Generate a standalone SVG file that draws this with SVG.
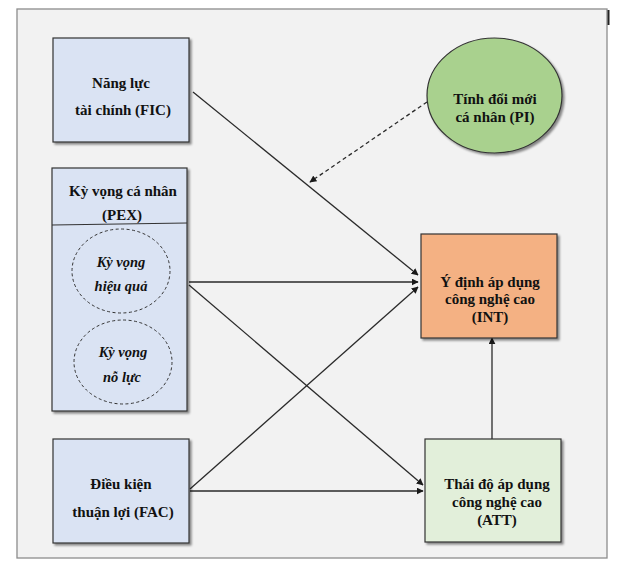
<svg xmlns="http://www.w3.org/2000/svg" width="630" height="575" viewBox="0 0 630 575">
<style>
.box{stroke:#333;stroke-width:1.2}
.t{font-family:"Liberation Serif","Times New Roman",serif;font-weight:bold;font-size:15px;fill:#111;text-anchor:middle}
.ti{font-style:italic;font-size:14.5px}
.c{stroke:#2a2a2a;stroke-width:1.3;fill:none}
.d{stroke-dasharray:4 3}
</style>
<defs>
<marker id="ah" viewBox="0 0 10 10" refX="9" refY="5" markerWidth="7" markerHeight="7" orient="auto" markerUnits="userSpaceOnUse">
<path d="M0,0 L10,5 L0,10 z" fill="#1a1a1a"/>
</marker>
<filter id="sh" x="-10%" y="-10%" width="125%" height="125%">
<feDropShadow dx="2" dy="2" stdDeviation="1.2" flood-color="#000" flood-opacity="0.45"/>
</filter>
</defs>
<rect x="0" y="0" width="630" height="575" fill="#ffffff"/>
<rect id="frame" x="17" y="9" width="590" height="549" fill="#f2f2f2" stroke="#8c8c8c" stroke-width="1.3"/>
<line x1="608.5" y1="10" x2="608.5" y2="25" stroke="#222" stroke-width="2"/>

<g id="connectors">
<line class="c" x1="193" y1="92" x2="418" y2="275" marker-end="url(#ah)"/>
<line class="c d" x1="427" y1="102" x2="310" y2="182" marker-end="url(#ah)"/>
<line class="c" x1="189" y1="282" x2="418" y2="282" marker-end="url(#ah)"/>
<line class="c" x1="189" y1="285" x2="423" y2="485" marker-end="url(#ah)"/>
<line class="c" x1="190" y1="489" x2="418" y2="287" marker-end="url(#ah)"/>
<line class="c" x1="190" y1="491" x2="423" y2="491" marker-end="url(#ah)"/>
<line class="c" x1="492" y1="439" x2="492" y2="338" marker-end="url(#ah)"/>
</g>

<g id="FIC">
<rect class="box" x="53" y="38" width="136" height="104" fill="#dae3f3" filter="url(#sh)"/>
<text class="t" x="121" y="88">Năng lực</text>
<text class="t" x="123" y="115">tài chính (FIC)</text>
</g>

<g id="PEX">
<rect class="box" x="52" y="168" width="135" height="243" fill="#dae3f3" filter="url(#sh)"/>
<line x1="52" y1="225" x2="187" y2="223" stroke="#333" stroke-width="1.2"/>
<text class="t" x="123" y="196">Kỳ vọng cá nhân</text>
<text class="t" x="122" y="220">(PEX)</text>
<g id="PE">
<ellipse cx="121" cy="271" rx="49" ry="42" fill="none" stroke="#333" stroke-width="1" stroke-dasharray="3 2.5"/>
<text class="t ti" x="121" y="267">Kỳ vọng</text>
<text class="t ti" x="121" y="291">hiệu quả</text>
</g>
<g id="EE">
<ellipse cx="123" cy="362" rx="49" ry="42" fill="none" stroke="#333" stroke-width="1" stroke-dasharray="3 2.5"/>
<text class="t ti" x="123" y="357">Kỳ vọng</text>
<text class="t ti" x="122" y="382">nỗ lực</text>
</g>
</g>

<g id="FAC">
<rect class="box" x="53" y="439" width="136" height="104" fill="#dae3f3" filter="url(#sh)"/>
<text class="t" x="121" y="489">Điều kiện</text>
<text class="t" x="123" y="517">thuận lợi (FAC)</text>
</g>

<g id="PI">
<ellipse class="box" cx="494.5" cy="95.5" rx="67.5" ry="57.5" fill="#a9d18e" filter="url(#sh)"/>
<text class="t" x="495" y="104">Tính đổi mới</text>
<text class="t" x="495" y="122">cá nhân (PI)</text>
</g>

<g id="INT">
<rect class="box" x="421" y="234" width="136" height="104" fill="#f4b183" filter="url(#sh)"/>
<text class="t" x="490" y="287">Ý định áp dụng</text>
<text class="t" x="490" y="304">công nghệ cao</text>
<text class="t" x="490" y="322">(INT)</text>
</g>

<g id="ATT">
<rect class="box" x="425" y="439" width="136" height="103" fill="#e2efda" filter="url(#sh)"/>
<text class="t" x="497" y="489">Thái độ áp dụng</text>
<text class="t" x="497" y="507">công nghệ cao</text>
<text class="t" x="497" y="525">(ATT)</text>
</g>
</svg>
